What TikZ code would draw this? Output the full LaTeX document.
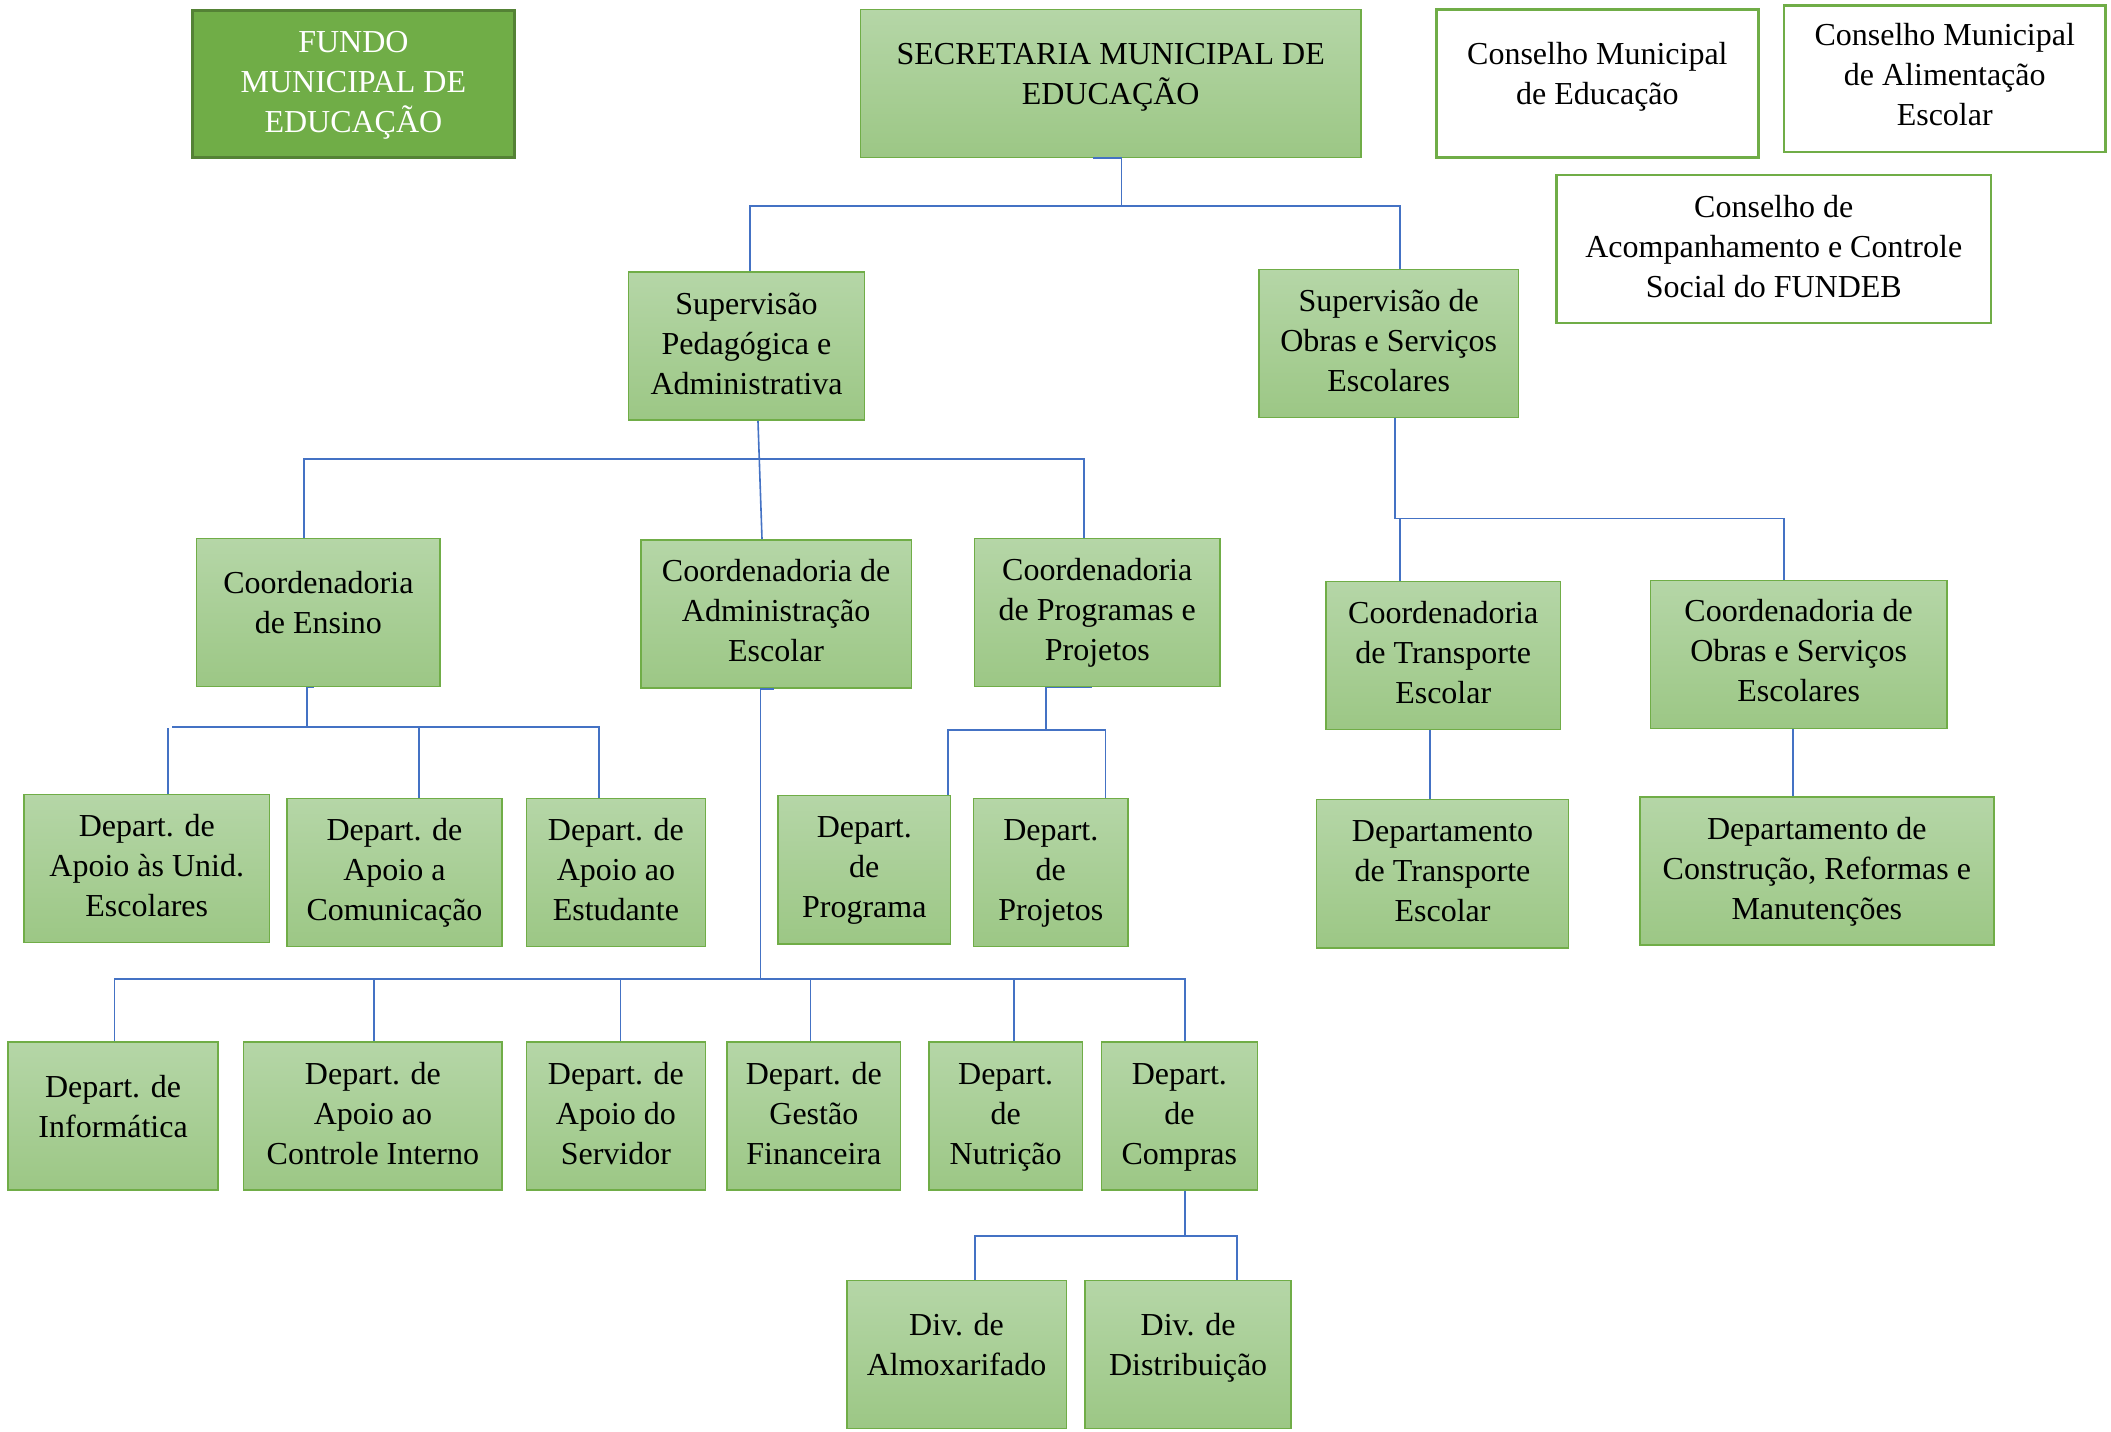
\documentclass[tikz,border=0pt]{standalone}
\usepackage{fontspec}
\setmainfont{Liberation Serif}
\usetikzlibrary{calc}
\definecolor{gtop}{HTML}{B5D6A7}
\definecolor{gbot}{HTML}{9CC785}
\definecolor{gline}{HTML}{70AD47}
\definecolor{dgreen}{HTML}{548235}
\definecolor{connblue}{HTML}{4472C4}
\tikzset{
 gbox/.style={draw=gline, line width=1.5pt, top color=gtop, bottom color=gbot, inner sep=0pt},
 wbox/.style={draw=gline, line width=2.5pt, fill=white, inner sep=0pt},
 fbox/.style={draw=dgreen, line width=3pt, fill=gline, inner sep=0pt},
 txt/.style={align=center, font=\fontsize{32}{40}\selectfont, inner sep=0pt},
 connector/.style={draw=connblue, line width=1.6pt},
}
\newcommand\orgbox[8]{%
 \node[#1, minimum width={(#5-#3)*1.3463pt}, minimum height={(#6-#4)*1.3463pt},
   label={[txt,yshift=#8]center:{\strut #7\strut}}] (#2) at ({(#3+#5)/2},{(#4+#6)/2}) {};}
\begin{document}
\begin{tikzpicture}[x=1.3463pt,y=-1.3463pt]
\fill[white] (0,0) rectangle (1568,1063);
\useasboundingbox (0,0) rectangle (1568,1063);
% top row
\node[fbox, minimum width={(382-143)*1.3463pt}, minimum height={(117-8)*1.3463pt},
  label={[txt,text=white,yshift=0pt]center:{\strut FUNDO\\MUNICIPAL DE\\EDUCAÇÃO\strut}}] (fundo) at ({(143+382)/2},{(8+117)/2}) {};
\orgbox{gbox}{sec}{639}{7}{1011}{117}{SECRETARIA MUNICIPAL DE\\EDUCAÇÃO}{7pt}
\orgbox{wbox}{cme}{1067}{7}{1306}{117}{Conselho Municipal\\de Educação}{7pt}
\orgbox{wbox}{cae}{1325}{4}{1564}{113}{Conselho Municipal\\de Alimentação\\Escolar}{1pt}
\orgbox{wbox}{fundeb}{1156}{130}{1479}{240}{Conselho de\\Acompanhamento e Controle\\Social do FUNDEB}{0pt}
% supervisions
\orgbox{gbox}{supA}{467}{202}{642}{312}{Supervisão\\Pedagógica e\\Administrativa}{0pt}
\orgbox{gbox}{supB}{935}{200}{1128}{310}{Supervisão de\\Obras e Serviços\\Escolares}{0pt}
% coordinations
\orgbox{gbox}{cEns}{146}{400}{327}{510}{Coordenadoria\\de Ensino}{7pt}
\orgbox{gbox}{cAdm}{476}{401}{677}{511}{Coordenadoria de\\Administração\\Escolar}{0pt}
\orgbox{gbox}{cProg}{724}{400}{906}{510}{Coordenadoria\\de Programas e\\Projetos}{0pt}
\orgbox{gbox}{cTr}{985}{432}{1159}{542}{Coordenadoria\\de Transporte\\Escolar}{0pt}
\orgbox{gbox}{cOb}{1226}{431}{1446}{541}{Coordenadoria de\\Obras e Serviços\\Escolares}{1pt}
% departments row 1
\orgbox{gbox}{dUnid}{18}{590}{200}{700}{Depart. de\\Apoio às Unid.\\Escolares}{0pt}
\orgbox{gbox}{dCom}{213}{593}{373}{703}{Depart. de\\Apoio a\\Comunicação}{0pt}
\orgbox{gbox}{dEst}{391}{593}{524}{703}{Depart. de\\Apoio ao\\Estudante}{0pt}
\orgbox{gbox}{dProg}{578}{591}{706}{701}{Depart.\\de\\Programa}{0pt}
\orgbox{gbox}{dProj}{723}{593}{838}{703}{Depart.\\de\\Projetos}{0pt}
\orgbox{gbox}{dTr}{978}{594}{1165}{704}{Departamento\\de Transporte\\Escolar}{0pt}
\orgbox{gbox}{dCons}{1218}{592}{1481}{702}{Departamento de\\Construção, Reformas e\\Manutenções}{0pt}
% departments row 2
\orgbox{gbox}{dInf}{6}{774}{162}{884}{Depart. de\\Informática}{7pt}
\orgbox{gbox}{dCI}{181}{774}{373}{884}{Depart. de\\Apoio ao\\Controle Interno}{0pt}
\orgbox{gbox}{dServ}{391}{774}{524}{884}{Depart. de\\Apoio do\\Servidor}{0pt}
\orgbox{gbox}{dFin}{540}{774}{669}{884}{Depart. de\\Gestão\\Financeira}{0pt}
\orgbox{gbox}{dNut}{690}{774}{804}{884}{Depart.\\de\\Nutrição}{0pt}
\orgbox{gbox}{dComp}{818}{774}{934}{884}{Depart.\\de\\Compras}{0pt}
% divisions
\orgbox{gbox}{divA}{629}{951}{792}{1061}{Div. de\\Almoxarifado}{7pt}
\orgbox{gbox}{divD}{806}{951}{959}{1061}{Div. de\\Distribuição}{7pt}
% connectors
\draw[connector] (sec.south -| 812,0) -- (sec.south -| 833,0) -- (833,153);
\draw[connector] (supA.north -| 557,0) |- (1040,153) -- (supB.north -| 1040,0);
\draw[connector] (supA.south -| 563,0) -- (cAdm.north -| 566,0);
\draw[connector] (cEns.north -| 226,0) |- (805,341) -- (cProg.north -| 805,0);
\draw[connector] (supB.south -| 1036,0) |- (1325,385) -- (cOb.north -| 1325,0);
\draw[connector] (1040,385) -- (cTr.north -| 1040,0);
\draw[connector] (cEns.south -| 233,0) -- (cEns.south -| 228,0) -- (228,540);
\draw[connector] (128,540) -- (445,540) -- (dEst.north -| 445,0);
\draw[connector] (125,541) -- (dUnid.north -| 125,0);
\draw[connector] (311,541) -- (dCom.north -| 311,0);
\draw[connector] (cAdm.south -| 575,0) -- (cAdm.south -| 565,0) -- (565,727);
\draw[connector] (dInf.north -| 85,0) |- (880,727) -- (dComp.north -| 880,0);
\foreach \n/\x in {dCI/278,dServ/461,dFin/602,dNut/753}
  \draw[connector] (\x,727) -- (\n.north -| \x,0);
\draw[connector] (cProg.south -| 811,0) -- (cProg.south -| 777,0) -- (777,542);
\draw[connector] (dProg.north -| 704,0) |- (821,542) -- (dProj.north -| 821,0);
\draw[connector] (cTr.south -| 1062,0) -- (dTr.north -| 1062,0);
\draw[connector] (cOb.south -| 1332,0) -- (dCons.north -| 1332,0);
\draw[connector] (dComp.south -| 880,0) -- (880,918);
\draw[connector] (divA.north -| 724,0) |- (919,918) -- (divD.north -| 919,0);
\end{tikzpicture}
\end{document}
